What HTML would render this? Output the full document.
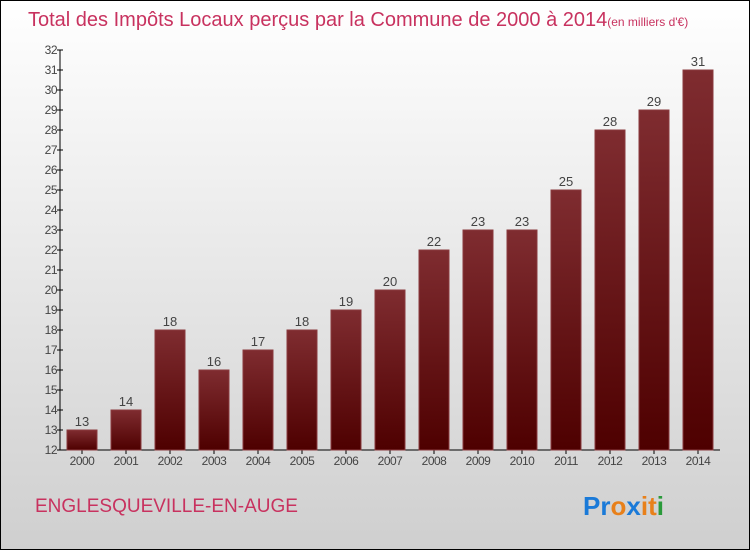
<!DOCTYPE html>
<html><head><meta charset="utf-8"><style>
html,body{margin:0;padding:0;}
body{width:750px;height:550px;overflow:hidden;font-family:"Liberation Sans",sans-serif;}
#wrap{position:relative;width:748px;height:548px;border:1px solid #000;background:linear-gradient(#ffffff,#cfcfcf);}
</style></head><body>
<div id="wrap">
<svg width="748" height="548" viewBox="1 1 748 548">
<defs><linearGradient id="bg" x1="0" y1="0" x2="0" y2="1"><stop offset="0" stop-color="#7f2c30"/><stop offset="1" stop-color="#4e0000"/></linearGradient></defs>
<text x="28" y="26" font-size="20" fill="#c8325f" font-family="Liberation Sans, sans-serif">Total des Impôts Locaux perçus par la Commune de 2000 à 2014<tspan font-size="12">(en milliers d'€)</tspan></text>
<g id="axes"></g><g id="bars"></g>
<text x="35" y="512" font-size="19" fill="#c8325f" font-family="Liberation Sans, sans-serif">ENGLESQUEVILLE-EN-AUGE</text>
<text x="583" y="515" font-size="26" font-family="Liberation Sans, sans-serif" font-weight="bold"><tspan fill="#1a7ad8">Pr</tspan><tspan fill="#e8801a">o</tspan><tspan fill="#1a7ad8">x</tspan><tspan fill="#e8801a">i</tspan><tspan fill="#e8801a">t</tspan><tspan fill="#2a9a3a">i</tspan></text>
</svg></div>
<script>
const years=["2000","2001","2002","2003","2004","2005","2006","2007","2008","2009","2010","2011","2012","2013","2014"];
const values=[13,14,18,16,17,18,19,20,22,23,23,25,28,29,31];
const yTicks=[12,13,14,15,16,17,18,19,20,21,22,23,24,25,26,27,28,29,30,31,32];
const NS="http://www.w3.org/2000/svg";
const x0=60,x1=720,yMin=12,yMax=32,py0=450,py1=50;
const band=(x1-x0)/years.length;
const Y=v=>py0-(v-yMin)/(yMax-yMin)*(py0-py1);
const X=i=>x0+band*i+band/2;
function mk(t,a,p){const e=document.createElementNS(NS,t);for(const k in a)e.setAttribute(k,a[k]);p.appendChild(e);return e;}
const ax=document.getElementById('axes'),bs=document.getElementById('bars');
let l=mk('line',{x1:x0,y1:py1,x2:x0,y2:py0,stroke:'#000'},ax);


l=mk('line',{x1:x0,y1:py0,x2:x1,y2:py0,stroke:'#000'},ax);


yTicks.forEach(v=>{
 mk('line',{x1:x0-3,y1:Y(v),x2:x0+3,y2:Y(v),stroke:'#000'},ax);
 const t=mk('text',{x:x0-3,y:Y(v)+4,'text-anchor':'end','font-size':'12',fill:'#444','letter-spacing':'-0.5'},ax);
 t.textContent=v;
 
 
});
years.forEach((yr,i)=>{
 const cx=X(i),v=values[i];
 mk('line',{x1:cx,y1:py0,x2:cx,y2:py0+4,stroke:'#000'},ax);
 const t=mk('text',{x:cx,y:py0+15,'text-anchor':'middle','font-size':'12',fill:'#444','letter-spacing':'-0.5'},ax);
 t.textContent=yr;
 
 
 const r=mk('rect',{x:cx-15,y:Y(v),width:30,height:py0-Y(v),fill:'url(#bg)',stroke:'#8a3a3e','stroke-width':'1'},bs);
 
 
 const vl=mk('text',{x:cx,y:Y(v)-4,'text-anchor':'middle','font-size':'13',fill:'#444'},bs);
 vl.textContent=v;
 
 
});
</script>
</body></html>
